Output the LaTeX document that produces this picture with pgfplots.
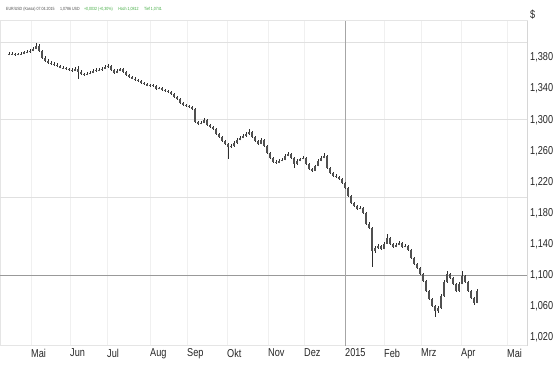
\documentclass[border=0pt]{standalone}
\usepackage{pgfplots}
\pgfplotsset{compat=1.18}
\usepackage{pgfplotstable}
\usepackage{fontspec}
\setmainfont{Liberation Sans}[FakeStretch=0.8]

\pgfplotstableread{
x o h l c
9 1.3845 1.3870 1.3830 1.3851
12 1.3851 1.3866 1.3832 1.3845
15 1.3845 1.3858 1.3825 1.3839
18 1.3839 1.3860 1.3828 1.3842
21 1.3842 1.3868 1.3835 1.3851
24 1.3851 1.3880 1.3840 1.3865
27 1.3865 1.3895 1.3855 1.3877
30 1.3877 1.3905 1.3862 1.3890
33 1.3890 1.3930 1.3880 1.3916
36 1.3916 1.3993 1.3905 1.3954
39 1.3954 1.3968 1.3875 1.3890
42 1.3890 1.3898 1.3785 1.3800
45 1.3800 1.3815 1.3748 1.3761
48 1.3761 1.3775 1.3722 1.3736
51 1.3736 1.3750 1.3705 1.3723
54 1.3723 1.3738 1.3695 1.3710
57 1.3710 1.3725 1.3682 1.3697
60 1.3697 1.3708 1.3660 1.3671
63 1.3671 1.3690 1.3655 1.3665
66 1.3665 1.3680 1.3645 1.3659
69 1.3659 1.3670 1.3632 1.3646
72 1.3646 1.3660 1.3618 1.3633
75 1.3633 1.3675 1.3625 1.3659
78 1.3659 1.3697 1.3530 1.3620
81 1.3620 1.3635 1.3578 1.3594
84 1.3594 1.3605 1.3565 1.3581
87 1.3581 1.3610 1.3570 1.3594
90 1.3594 1.3625 1.3585 1.3607
93 1.3607 1.3648 1.3598 1.3633
96 1.3633 1.3662 1.3620 1.3646
99 1.3646 1.3660 1.3625 1.3640
102 1.3640 1.3675 1.3630 1.3659
105 1.3659 1.3698 1.3650 1.3684
108 1.3684 1.3723 1.3672 1.3697
111 1.3697 1.3705 1.3632 1.3646
114 1.3646 1.3655 1.3592 1.3607
117 1.3607 1.3648 1.3598 1.3633
120 1.3633 1.3672 1.3625 1.3659
123 1.3659 1.3668 1.3605 1.3620
126 1.3620 1.3630 1.3568 1.3581
129 1.3581 1.3592 1.3540 1.3556
132 1.3556 1.3565 1.3518 1.3530
135 1.3530 1.3545 1.3502 1.3517
138 1.3517 1.3530 1.3490 1.3504
141 1.3504 1.3515 1.3465 1.3479
144 1.3479 1.3492 1.3450 1.3466
147 1.3466 1.3478 1.3428 1.3440
150 1.3440 1.3460 1.3425 1.3445
153 1.3445 1.3458 1.3422 1.3440
156 1.3440 1.3450 1.3388 1.3401
159 1.3401 1.3425 1.3392 1.3408
162 1.3408 1.3420 1.3375 1.3389
165 1.3389 1.3400 1.3362 1.3376
168 1.3376 1.3388 1.3350 1.3363
171 1.3363 1.3372 1.3322 1.3337
174 1.3337 1.3345 1.3285 1.3299
177 1.3299 1.3310 1.3260 1.3273
180 1.3273 1.3282 1.3208 1.3221
183 1.3221 1.3232 1.3182 1.3196
186 1.3196 1.3208 1.3170 1.3183
189 1.3183 1.3195 1.3155 1.3170
192 1.3170 1.3180 1.3130 1.3144
195 1.3144 1.3150 1.2960 1.2977
198 1.2977 1.2990 1.2938 1.2951
201 1.2951 1.2980 1.2942 1.2964
204 1.2964 1.3018 1.2955 1.3003
207 1.3003 1.3010 1.2925 1.2939
210 1.2939 1.2950 1.2900 1.2913
213 1.2913 1.2925 1.2872 1.2887
216 1.2887 1.2895 1.2810 1.2823
219 1.2823 1.2835 1.2770 1.2784
222 1.2784 1.2795 1.2720 1.2733
225 1.2733 1.2745 1.2680 1.2694
228 1.2694 1.2705 1.2500 1.2656
231 1.2656 1.2685 1.2640 1.2669
234 1.2669 1.2722 1.2655 1.2707
237 1.2707 1.2760 1.2695 1.2746
240 1.2746 1.2788 1.2735 1.2771
243 1.2771 1.2812 1.2760 1.2797
246 1.2797 1.2838 1.2785 1.2823
249 1.2823 1.2887 1.2810 1.2849
252 1.2849 1.2860 1.2770 1.2784
255 1.2784 1.2795 1.2720 1.2733
258 1.2733 1.2745 1.2680 1.2694
261 1.2694 1.2760 1.2685 1.2746
264 1.2746 1.2755 1.2655 1.2669
267 1.2669 1.2678 1.2565 1.2579
270 1.2579 1.2590 1.2500 1.2514
273 1.2514 1.2525 1.2450 1.2463
276 1.2463 1.2478 1.2436 1.2450
279 1.2450 1.2490 1.2440 1.2476
282 1.2476 1.2505 1.2465 1.2489
285 1.2489 1.2555 1.2478 1.2540
288 1.2540 1.2582 1.2530 1.2566
291 1.2566 1.2575 1.2500 1.2514
294 1.2514 1.2522 1.2386 1.2437
297 1.2437 1.2490 1.2425 1.2476
300 1.2476 1.2515 1.2465 1.2501
303 1.2501 1.2530 1.2490 1.2514
306 1.2514 1.2522 1.2425 1.2437
309 1.2437 1.2445 1.2360 1.2373
312 1.2373 1.2382 1.2332 1.2347
315 1.2347 1.2425 1.2340 1.2412
318 1.2412 1.2490 1.2400 1.2476
321 1.2476 1.2530 1.2465 1.2514
324 1.2514 1.2579 1.2505 1.2540
327 1.2540 1.2548 1.2372 1.2386
330 1.2386 1.2395 1.2308 1.2322
333 1.2322 1.2335 1.2270 1.2283
336 1.2283 1.2298 1.2255 1.2270
339 1.2270 1.2282 1.2230 1.2244
342 1.2244 1.2255 1.2180 1.2193
345 1.2193 1.2202 1.2115 1.2129
348 1.2129 1.2138 1.2012 1.2026
351 1.2026 1.2035 1.1922 1.1936
354 1.1936 1.1948 1.1883 1.1897
357 1.1897 1.1910 1.1845 1.1859
360 1.1859 1.1888 1.1848 1.1871
363 1.1871 1.1880 1.1792 1.1807
366 1.1807 1.1815 1.1652 1.1666
369 1.1666 1.1680 1.1600 1.1614
372 1.1614 1.1625 1.1110 1.1319
375 1.1319 1.1372 1.1290 1.1357
378 1.1357 1.1400 1.1340 1.1383
381 1.1383 1.1395 1.1330 1.1344
384 1.1344 1.1425 1.1335 1.1409
387 1.1409 1.1535 1.1400 1.1486
390 1.1486 1.1495 1.1395 1.1409
393 1.1409 1.1420 1.1355 1.1370
396 1.1370 1.1412 1.1360 1.1396
399 1.1396 1.1438 1.1385 1.1421
402 1.1421 1.1430 1.1355 1.1370
405 1.1370 1.1400 1.1360 1.1383
408 1.1383 1.1392 1.1318 1.1332
411 1.1332 1.1340 1.1215 1.1229
414 1.1229 1.1238 1.1138 1.1152
417 1.1152 1.1165 1.1085 1.1100
420 1.1100 1.1110 1.1008 1.1023
423 1.1023 1.1032 1.0918 1.0933
426 1.0933 1.0942 1.0790 1.0804
429 1.0804 1.0815 1.0688 1.0701
432 1.0701 1.0712 1.0598 1.0612
435 1.0612 1.0625 1.0470 1.0547
438 1.0547 1.0600 1.0520 1.0586
441 1.0586 1.0760 1.0570 1.0740
444 1.0740 1.0935 1.0725 1.0920
447 1.0920 1.1060 1.0905 1.1023
450 1.1023 1.1035 1.0955 1.0972
453 1.0972 1.0985 1.0880 1.0894
456 1.0894 1.0905 1.0790 1.0804
459 1.0804 1.0910 1.0792 1.0894
462 1.0894 1.1050 1.0885 1.0997
465 1.0997 1.1008 1.0905 1.0920
468 1.0920 1.0930 1.0790 1.0804
471 1.0804 1.0815 1.0700 1.0714
474 1.0714 1.0725 1.0620 1.0650
477 1.0650 1.0830 1.0640 1.0804
}\fx

\definecolor{wick}{HTML}{2E2E2E}
\definecolor{body}{HTML}{505050}
\definecolor{hdrgreen}{HTML}{3DAA3D}

\begin{document}
\begin{tikzpicture}[x=1bp,y=1bp]
\useasboundingbox (0,0) rectangle (560,365);
\begin{axis}[
  at={(0,25)}, anchor=south west,
  width=527bp, height=325bp, scale only axis,
  xmin=0, xmax=527, ymin=1.00972, ymax=1.42757,
  axis line style={draw=black!10},
  major tick length=0pt,
  xtick={31,70,107,150,187,227,268,304,345,384,421,461,507},
  xticklabels={Mai,Jun,Jul,Aug,Sep,Okt,Nov,Dez,2015,Feb,Mrz,Apr,Mai},
  xticklabel style={anchor=north west, inner sep=0pt, yshift=-3bp, text=black!85, font=\fontsize{11.5}{13}\selectfont},
  xmajorgrids, major grid style={draw=black!6, line width=0.5bp},
  ytick={1.02,1.06,1.1,1.14,1.18,1.22,1.26,1.3,1.34,1.38},
  yticklabel pos=right,
  yticklabel style={anchor=west, inner sep=0pt, xshift=3bp, text=black!85, font=\fontsize{11.5}{13}\selectfont,
    /pgf/number format/.cd, fixed, fixed zerofill, precision=3, use comma, 1000 sep={}, assume math mode=true},
  clip=true,
]
\draw[black!12, line width=0.6bp] (axis cs:0,1.2) -- (axis cs:527,1.2);
\draw[black!12, line width=0.6bp] (axis cs:0,1.3) -- (axis cs:527,1.3);
\draw[black!12, line width=0.6bp] (axis cs:0,1.4) -- (axis cs:527,1.4);
\draw[black!40, line width=0.6bp] (axis cs:0,1.1) -- (axis cs:527,1.1);
\draw[black!35, line width=0.6bp] (axis cs:345,1.00972) -- (axis cs:345,1.42757);

\addplot[draw=none, mark=none, forget plot,
  error bars/.cd, y dir=plus, y explicit, error mark=none,
  error bar style={line width=0.6bp, draw=wick, solid}]
  table[x=x, y=l, y error plus expr={\thisrow{h}-\thisrow{l}}] {\fx};

\addplot[draw=none, mark=none, forget plot,
  error bars/.cd, y dir=plus, y explicit, error mark=none,
  error bar style={line width=1.5bp, draw=body, solid}]
  table[x=x, y expr={min(\thisrow{o},\thisrow{c})}, y error plus expr={abs(\thisrow{c}-\thisrow{o})}] {\fx};

\draw[black!55, line width=0.7bp] (rel axis cs:1,0) -- (rel axis cs:1,1);
\end{axis}
\node[anchor=west, inner sep=0pt, text=black!85, font=\fontsize{11.5}{13}\selectfont] at (530,350) {\$};
\node[anchor=west, inner sep=0pt, font=\fontsize{4.5}{5}\selectfont] at (6,356)
  {\textcolor{black!70}{EUR/USD (Kassa) 07.04.2015 \quad 1,0786 USD}\quad\textcolor{hdrgreen}{+0,0032 (+0,30\%) \quad Hoch 1,0812 \quad Tief 1,0741}};
\end{tikzpicture}
\end{document}
